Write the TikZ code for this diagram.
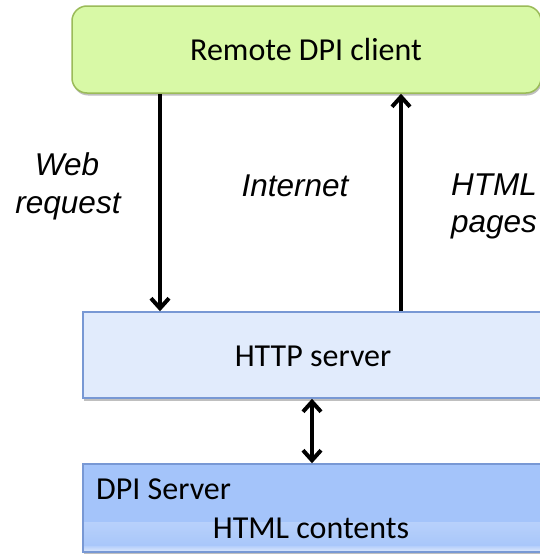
\documentclass[tikz,border=0pt]{standalone}
\usepackage{fontspec}
\setmainfont{Carlito}
\newfontfamily\arialit{Liberation Sans}[ItalicFont={* Italic}]
\usetikzlibrary{arrows.meta,shadows}
\definecolor{clientfill}{RGB}{216,249,166}
\definecolor{clientdraw}{RGB}{155,187,89}
\definecolor{httpfill}{RGB}{225,235,252}
\definecolor{boxblue}{RGB}{120,152,212}
\definecolor{dpifill}{RGB}{164,196,250}
\definecolor{dpilight}{RGB}{222,233,252}
\tikzset{
  boxtext/.style={font=\fontsize{32}{38}\selectfont, inner sep=0pt},
  lbl/.style={font=\arialit\itshape\fontsize{31.5}{38}\selectfont, inner sep=0pt, anchor=base},
  shad/.style={drop shadow={shadow xshift=1pt, shadow yshift=-2.5pt, opacity=0.25, fill=black}},
  arr/.style={line width=3.5pt, -{Straight Barb[length=10pt,width=18pt,line width=4pt]}},
  darr/.style={line width=3.5pt, {Straight Barb[length=10pt,width=18pt,line width=4pt]}-{Straight Barb[length=10pt,width=18pt,line width=4pt]}}
}
\begin{document}
\begin{tikzpicture}[x=1pt,y=-1pt]
\useasboundingbox (0,0) rectangle (540,554);
\fill[white] (0,0) rectangle (540,554);
% boxes
\node[shad, draw=clientdraw, line width=1.5pt, fill=clientfill, rounded corners=15pt,
      minimum width=469pt, minimum height=87pt, inner sep=0pt] (client) at (306.5,49.5) {};
\node[boxtext] (clienttext) at (306,49.5) {Remote DPI client};
\node[shad, draw=boxblue, line width=1.5pt, fill=httpfill,
      minimum width=478pt, minimum height=86pt, inner sep=0pt] (http) at (322,355) {};
\node[boxtext] (httptext) at (313,356) {HTTP server};
\node[shad, draw=boxblue, line width=1.5pt, fill=dpifill,
      minimum width=478pt, minimum height=88pt, inner sep=0pt,
      path picture={\shade[bottom color=dpifill, top color=dpilight]
        ([yshift=30pt]path picture bounding box.south west) rectangle
        ([yshift=6pt]path picture bounding box.south east);
        \shade[bottom color=dpilight, top color=dpifill!70!dpilight]
        ([yshift=6pt]path picture bounding box.south west) rectangle
        (path picture bounding box.south east);}] (dpi) at (322,508) {};
\node[boxtext, anchor=base west] (dpitext) at (96,499) {DPI Server};
\node[boxtext, anchor=base] (htmltext) at (311,538) {HTML contents};
% connectors
\coordinate (lx) at (160,0);
\coordinate (rx) at (401,0);
\coordinate (mx) at (312,0);
\draw[arr] (client.south -| lx) -- (http.north -| lx);
\draw[arr] (http.north -| rx) -- (client.south -| rx);
\draw[darr] (http.south -| mx) -- (dpi.north -| mx);
% labels
\node[lbl] (web) at (67,175) {Web};
\node[lbl] (request) at (68,213) {request};
\node[lbl] (internet) at (295,196) {Internet};
\node[lbl] (html) at (494,195) {HTML};
\node[lbl] (pages) at (494,232) {pages};
\end{tikzpicture}
\end{document}
